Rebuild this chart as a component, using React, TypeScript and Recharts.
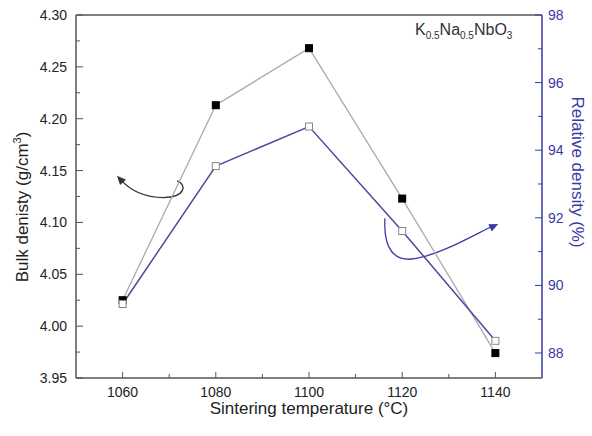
import { LineChart, Line, XAxis, YAxis, ReferenceLine, Customized } from 'recharts'

// sintering temperature (°C)
const TEMPS = [1060, 1080, 1100, 1120, 1140]
// bulk density (g/cm3), left axis
const BULK = [4.025, 4.213, 4.268, 4.123, 3.974]
// relative density (%), right axis
const RELATIVE = [89.45, 93.53, 94.7, 91.61, 88.36]

const X_TICKS = [1060, 1070, 1080, 1090, 1100, 1110, 1120, 1130, 1140]
const LEFT_TICKS = [3.95, 3.975, 4.0, 4.025, 4.05, 4.075, 4.1, 4.125, 4.15, 4.175, 4.2, 4.225, 4.25, 4.275, 4.3]
const RIGHT_TICKS = [88, 89, 90, 91, 92, 93, 94, 95, 96, 97, 98]

const X_DOMAIN = [1050, 1150]
const LEFT_DOMAIN = [3.95, 4.3]
const RIGHT_DOMAIN = [87.26, 98]

// annotation arrows, in (temperature, bulk density) units
const BLACK_ARROW = [[1071.7, 4.14], [1073.8, 4.137], [1073.6, 4.124], [1068.7, 4.124], [1064.8, 4.124], [1061.6, 4.131], [1059.4, 4.142]]
const BLACK_TIP = [1058.8, 4.145]
const BLUE_ARROW = [[1116.3, 4.104], [1115.9, 4.073], [1118.5, 4.062], [1122.7, 4.065], [1128.1, 4.069], [1134.6, 4.086], [1139.6, 4.097]]
const BLUE_TIP = [1140.6, 4.0985]

const W = 592
const H = 436
const M = { top: 15, right: 0, bottom: 0, left: 0 }
const LEFT_W = 76
const RIGHT_W = 50
const X_H = 58

const FONT = '"Liberation Sans", Arial, sans-serif'
const AXIS = '#555'
const BLUE = '#3a3aa6'

const data = TEMPS.map((t, i) => ({ temp: t, bulk: BULK[i], rel: RELATIVE[i] }))

const plotL = M.left + LEFT_W
const plotR = W - M.right - RIGHT_W
const plotT = M.top
const plotB = H - M.bottom - X_H
const px = (t: number) => plotL + ((t - X_DOMAIN[0]) / (X_DOMAIN[1] - X_DOMAIN[0])) * (plotR - plotL)
const py = (v: number) => plotT + ((LEFT_DOMAIN[1] - v) / (LEFT_DOMAIN[1] - LEFT_DOMAIN[0])) * (plotB - plotT)

const isMajor = (v: number, step: number) => Math.abs(v / step - Math.round(v / step)) < 1e-6

function XTick({ x, y, payload }: any) {
  const major = isMajor(payload.value, 20)
  return (
    <g>
      <line x1={x} y1={y} x2={x} y2={y - (major ? 6 : 4)} stroke={AXIS} strokeWidth={1} />
      {major && (
        <text x={x} y={y + 19} textAnchor="middle" fontSize={14} fill="#222" fontFamily={FONT}>
          {payload.value}
        </text>
      )}
    </g>
  )
}

function LeftTick({ x, y, payload }: any) {
  const major = isMajor(payload.value, 0.05)
  return (
    <g>
      <line x1={x} y1={y} x2={x + (major ? 7 : 4)} y2={y} stroke={AXIS} strokeWidth={1} />
      {major && (
        <text x={x - 9} y={y} dy="0.36em" textAnchor="end" fontSize={14} fill="#222" fontFamily={FONT}>
          {payload.value.toFixed(2)}
        </text>
      )}
    </g>
  )
}

function RightTick({ x, y, payload }: any) {
  const major = isMajor(payload.value, 2)
  return (
    <g>
      <line x1={x} y1={y} x2={x - (major ? 7 : 4)} y2={y} stroke={BLUE} strokeWidth={1} />
      {major && (
        <text x={x + 6} y={y} dy="0.36em" textAnchor="start" fontSize={14} fill={BLUE} fontFamily={FONT}>
          {payload.value}
        </text>
      )}
    </g>
  )
}

function SquareDot({ cx, cy, fill, stroke }: any) {
  if (cx == null || cy == null) return null
  return <rect x={cx - 3.5} y={cy - 3.5} width={7} height={7} fill={fill} stroke={stroke} strokeWidth={1} />
}

function curve(pts: number[][]) {
  const p = pts.map(([t, v]) => [px(t), py(v)])
  return `M${p[0][0]},${p[0][1]} C${p[1][0]},${p[1][1]} ${p[2][0]},${p[2][1]} ${p[3][0]},${p[3][1]} C${p[4][0]},${p[4][1]} ${p[5][0]},${p[5][1]} ${p[6][0]},${p[6][1]}`
}

function head(tip: number[], from: number[], color: string) {
  const tx = px(tip[0]), ty = py(tip[1])
  const fx = px(from[0]), fy = py(from[1])
  const a = Math.atan2(ty - fy, tx - fx)
  const len = 9, wid = 4
  const bx = tx - len * Math.cos(a), by = ty - len * Math.sin(a)
  const p1 = [bx + wid * Math.sin(a), by - wid * Math.cos(a)]
  const p2 = [bx - wid * Math.sin(a), by + wid * Math.cos(a)]
  return <polygon points={`${tx},${ty} ${p1[0]},${p1[1]} ${p2[0]},${p2[1]}`} fill={color} />
}

function Annotations() {
  return (
    <g fontFamily={FONT}>
      <path d={curve(BLACK_ARROW)} fill="none" stroke="#333" strokeWidth={1.3} />
      {head(BLACK_TIP, BLACK_ARROW[5], '#333')}
      <path d={curve(BLUE_ARROW)} fill="none" stroke={BLUE} strokeWidth={1.3} />
      {head(BLUE_TIP, BLUE_ARROW[5], BLUE)}
      <text x={415} y={35} fontSize={16} fill="#333">
        K<tspan fontSize={10} dy={4}>0.5</tspan>
        <tspan dy={-4}>Na</tspan>
        <tspan fontSize={10} dy={4}>0.5</tspan>
        <tspan dy={-4}>NbO</tspan>
        <tspan fontSize={10} dy={4}>3</tspan>
      </text>
      <text x={(plotL + plotR) / 2} y={414} textAnchor="middle" fontSize={17} fill="#222">
        Sintering temperature (°C)
      </text>
      <text transform={`translate(28, 207) rotate(-90)`} textAnchor="middle" fontSize={17} fill="#222">
        Bulk denisty (g/cm<tspan fontSize={11} dy={-7}>3</tspan>
        <tspan dy={7}>)</tspan>
      </text>
      <text transform={`translate(572, 172) rotate(90)`} textAnchor="middle" fontSize={17} fill={BLUE}>
        Relative density (%)
      </text>
    </g>
  )
}

export default function App() {
  return (
    <div style={{ position: 'absolute', left: 0, top: 0, width: W, height: H, background: '#fff' }}>
      <LineChart width={W} height={H} data={data} margin={M}>
        <XAxis
          dataKey="temp"
          type="number"
          domain={X_DOMAIN}
          ticks={X_TICKS}
          interval={0}
          height={X_H}
          tickSize={0}
          tickMargin={0}
          tickLine={false}
          tick={<XTick />}
          axisLine={{ stroke: AXIS, strokeWidth: 1.5 }}
        />
        <YAxis
          yAxisId="left"
          type="number"
          domain={LEFT_DOMAIN}
          ticks={LEFT_TICKS}
          interval={0}
          width={LEFT_W}
          tickSize={0}
          tickMargin={0}
          tickLine={false}
          tick={<LeftTick />}
          axisLine={{ stroke: AXIS, strokeWidth: 1.5 }}
        />
        <YAxis
          yAxisId="right"
          orientation="right"
          type="number"
          domain={RIGHT_DOMAIN}
          ticks={RIGHT_TICKS}
          interval={0}
          width={RIGHT_W}
          tickSize={0}
          tickMargin={0}
          tickLine={false}
          tick={<RightTick />}
          axisLine={{ stroke: BLUE, strokeWidth: 1.5 }}
        />
        <ReferenceLine yAxisId="left" y={4.3} stroke={AXIS} strokeWidth={1.5} />
        <Line
          yAxisId="left"
          dataKey="bulk"
          stroke="#aaa"
          strokeWidth={1.3}
          dot={<SquareDot fill="#000" stroke="#000" />}
          isAnimationActive={false}
        />
        <Line
          yAxisId="right"
          dataKey="rel"
          stroke="#4a4a9e"
          strokeWidth={1.5}
          dot={<SquareDot fill="#fff" stroke="#888" />}
          isAnimationActive={false}
        />
        <Customized component={<Annotations />} />
      </LineChart>
    </div>
  )
}
